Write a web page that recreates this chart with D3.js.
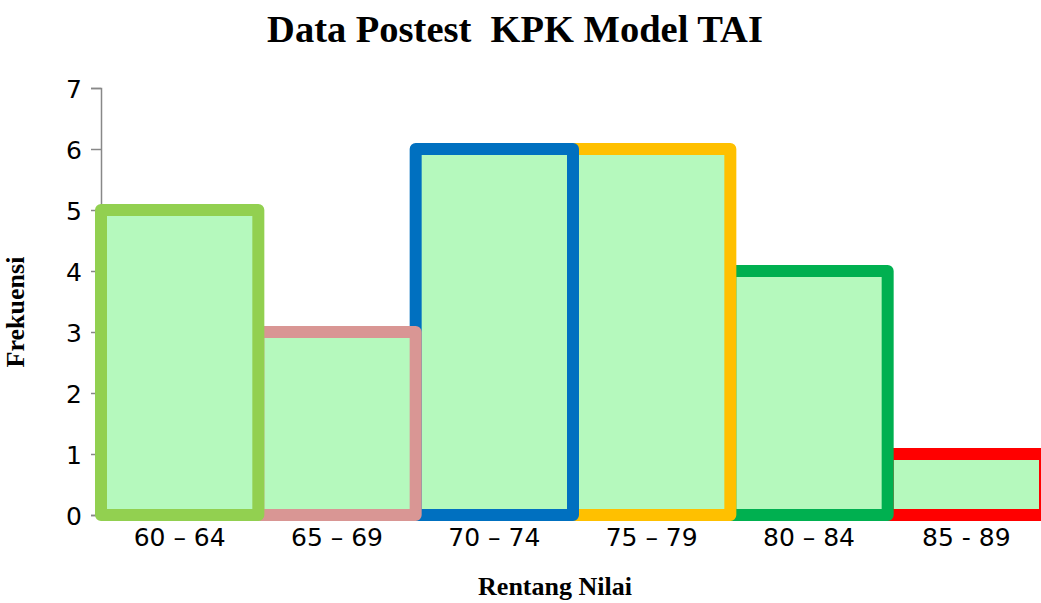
<!DOCTYPE html>
<html>
<head>
<meta charset="utf-8">
<style>
  body { margin: 0; background: #fff; }
  svg { display: block; }
  .tick text { font-family: "DejaVu Sans", sans-serif; font-size: 25px; fill: #000; }
  .ttl { font-family: "Liberation Serif", "Times New Roman", serif; font-weight: bold; fill: #000; }
</style>
</head>
<body>
<svg width="1041" height="603"></svg>
<script src="https://d3js.org/d3.v7.min.js"></script>
<script>
var categories = ["60 – 64", "65 – 69", "70 – 74", "75 – 79", "80 – 84", "85 - 89"];
var frekuensi = [5, 3, 6, 6, 4, 1];
var borderColors = ["#92d050", "#d99694", "#0070c0", "#ffc000", "#00b050", "#ff0000"];
var yTicks = [0, 1, 2, 3, 4, 5, 6, 7];

var svg = d3.select("svg"),
    plotLeft = 101, plotRight = 1045, plotTop = 88, plotBottom = 515;

var x = d3.scaleBand().domain(categories).range([plotLeft, plotRight]).padding(0);
var y = d3.scaleLinear().domain([0, 7]).range([plotBottom, plotTop]);

// y axis
var yAxis = svg.append("g")
    .attr("transform", "translate(" + plotLeft + ",0)")
    .call(d3.axisLeft(y).tickValues(yTicks).tickFormat(d3.format("d")).tickSize(10).tickSizeOuter(10).tickPadding(9));
yAxis.selectAll("line, path").attr("stroke", "#888").attr("stroke-width", 1.5);
yAxis.selectAll("text").attr("dy", "0.36em");

// bars: earlier ones sit on top, so draw in reverse
var data = categories.map(function(c, i) { return { cat: c, val: frekuensi[i], col: borderColors[i] }; });
svg.append("g").selectAll("rect")
  .data(data.slice().reverse())
  .enter().append("rect")
    .attr("x", function(d) { return x(d.cat); })
    .attr("y", function(d) { return y(d.val); })
    .attr("width", x.bandwidth())
    .attr("height", function(d) { return y(0) - y(d.val); })
    .attr("fill", "#b5f9bd")
    .attr("stroke", function(d) { return d.col; })
    .attr("stroke-width", 12)
    .attr("stroke-linejoin", "round");

// x labels
svg.append("g").selectAll("text")
  .data(categories)
  .enter().append("text")
    .attr("x", function(d) { return x(d) + x.bandwidth() / 2; })
    .attr("y", 546)
    .attr("text-anchor", "middle")
    .style("font-family", "'DejaVu Sans', sans-serif")
    .style("font-size", "25px")
    .text(function(d) { return d; });

svg.append("text").attr("class", "ttl")
    .attr("x", 515).attr("y", 42)
    .attr("text-anchor", "middle")
    .style("font-size", "38.5px")
    .style("white-space", "pre")
    .text("Data Postest  KPK Model TAI");

svg.append("text").attr("class", "ttl")
    .attr("transform", "translate(24,312) rotate(-90)")
    .attr("text-anchor", "middle")
    .style("font-size", "26px")
    .text("Frekuensi");

svg.append("text").attr("class", "ttl")
    .attr("x", 555).attr("y", 595)
    .attr("text-anchor", "middle")
    .style("font-size", "26px")
    .text("Rentang Nilai");
</script>
</body>
</html>
